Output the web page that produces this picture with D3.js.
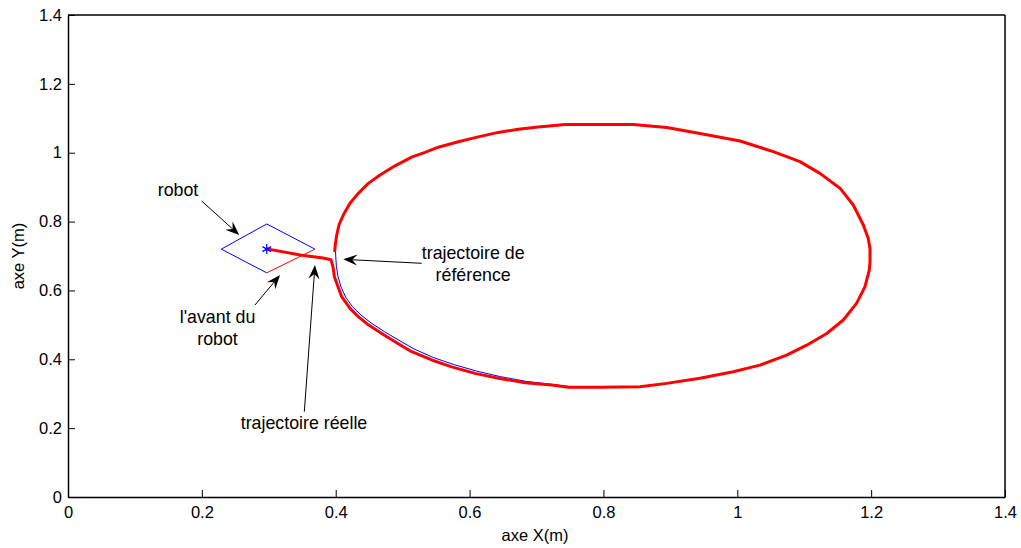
<!DOCTYPE html>
<html>
<head>
<meta charset="utf-8">
<script src="https://cdn.jsdelivr.net/npm/d3@7"></script>
<style>
  html, body { margin: 0; padding: 0; background: #fff; }
  svg { display: block; font-family: "Liberation Sans", Arial, sans-serif; }
</style>
</head>
<body>
<svg id="chart" width="1021" height="548"></svg>
<script>
// ---------------- data ----------------
const xTicks = [0, 0.2, 0.4, 0.6, 0.8, 1, 1.2, 1.4];
const xTickLabels = ["0", "0.2", "0.4", "0.6", "0.8", "1", "1.2", "1.4"];
const yTicks = [0, 0.2, 0.4, 0.6, 0.8, 1, 1.2, 1.4];
const yTickLabels = ["0", "0.2", "0.4", "0.6", "0.8", "1", "1.2", "1.4"];

// reference trajectory (blue)
const refX = [0.4000,0.4010,0.4035,0.4080,0.4150,0.4250,0.4380,0.4540,0.4730,0.4930,0.5170,0.5460,0.5760,0.6100,0.6450,0.6840,0.7230,0.7480,0.7950,
  0.8546,0.8945,0.9443,0.9940,1.0339,1.0738,1.1037,1.1336,1.1584,1.1784,1.1908,1.1972,1.1983,1.1983,1.1957,1.1883,1.1733,1.1534,1.1235,1.0936,1.0538,1.0041,0.9443,0.8945,0.8446,0.7426,0.7027,0.6728,0.6429,0.6130,0.5832,0.5533,0.5334,0.5135,0.4886,0.4662,0.4487,0.4337,0.4213,0.4113,0.4049,0.4015,0.3995,0.4000];
const refY = [0.700,0.670,0.640,0.610,0.580,0.553,0.528,0.504,0.480,0.457,0.430,0.405,0.385,0.366,0.350,0.336,0.327,0.321,0.320,
  0.320,0.330,0.345,0.364,0.383,0.412,0.441,0.475,0.514,0.563,0.611,0.659,0.683,0.720,0.751,0.790,0.848,0.897,0.940,0.974,1.003,1.034,1.056,1.073,1.082,1.082,1.075,1.068,1.059,1.046,1.032,1.016,1.001,0.987,0.962,0.935,0.911,0.882,0.853,0.819,0.790,0.761,0.735,0.700];

// real trajectory (red)
const realX = [0.299,0.347,0.381,0.393,0.396,0.398,0.4015,0.4089,0.4213,0.4337,0.4487,0.4687,0.4886,0.5135,0.5434,0.5733,0.6081,0.6429,0.6828,0.7227,0.7475,0.7949,
  0.8546,0.8945,0.9443,0.9940,1.0339,1.0738,1.1037,1.1336,1.1584,1.1784,1.1908,1.1972,1.1983,1.1983,1.1957,1.1883,1.1733,1.1534,1.1235,1.0936,1.0538,1.0041,0.9443,0.8945,0.8446,0.7426,0.7027,0.6728,0.6429,0.6130,0.5832,0.5533,0.5334,0.5135,0.4886,0.4662,0.4487,0.4337,0.4213,0.4113,0.4049,0.4015,0.3995,0.3985];
const realY = [0.720,0.703,0.694,0.689,0.668,0.640,0.621,0.582,0.548,0.524,0.500,0.475,0.451,0.422,0.398,0.378,0.359,0.345,0.332,0.325,0.319,0.319,
  0.320,0.330,0.345,0.364,0.383,0.412,0.441,0.475,0.514,0.563,0.611,0.659,0.683,0.720,0.751,0.790,0.848,0.897,0.940,0.974,1.003,1.034,1.056,1.073,1.082,1.082,1.075,1.068,1.059,1.046,1.032,1.016,1.001,0.987,0.962,0.935,0.911,0.882,0.853,0.819,0.790,0.761,0.735,0.715];

// robot body (diamond): left, top, right, bottom ; front side = bottom->right
const robotX = [0.229, 0.297, 0.369, 0.297];
const robotY = [0.720, 0.793, 0.720, 0.651];
const robotCenter = [0.297, 0.720];

// annotations (data units)
const annTexts = [
  { lines: ["robot"], x: 0.1644, y: 0.8917, from: [0.1998, 0.8597], to: [0.2559, 0.761] },
  { lines: ["l'avant du", "robot"], x: 0.2234, y: 0.5237, from: [0.2794, 0.5577], to: [0.3168, 0.6448] },
  { lines: ["trajectoire de", "référence"], x: 0.6054, y: 0.7078, from: [0.5285, 0.6788], to: [0.4113, 0.6904] },
  { lines: ["trajectoire réelle"], x: 0.3526, y: 0.2149, from: [0.3531, 0.2478], to: [0.3690, 0.6738] }
];

// ---------------- drawing ----------------
const svg = d3.select("#chart");
const x = d3.scaleLinear().domain([0, 1.4]).range([68, 1005]);
const y = d3.scaleLinear().domain([0, 1.4]).range([497, 15]);

// reference curve
const line = d3.line().x(d => x(d[0])).y(d => y(d[1]));
svg.append("path")
  .attr("d", line(refX.map((v, i) => [v, refY[i]])))
  .attr("fill", "none").attr("stroke", "#0000ff").attr("stroke-width", 1);

// robot diamond
const rp = robotX.map((v, i) => [v, robotY[i]]);
svg.append("path")
  .attr("d", line([rp[3], rp[0], rp[1], rp[2]]))
  .attr("fill", "none").attr("stroke", "#0000ff").attr("stroke-width", 1);
svg.append("path")
  .attr("d", line([rp[3], rp[2]]))
  .attr("fill", "none").attr("stroke", "#ff0000").attr("stroke-width", 1);

// real trajectory
svg.append("path")
  .attr("d", line(realX.map((v, i) => [v, realY[i]])))
  .attr("fill", "none").attr("stroke", "#ff0000").attr("stroke-width", 3)
  .attr("stroke-linejoin", "round").attr("stroke-linecap", "round");

// robot centre star
svg.append("path")
  .attr("d", d3.symbol().type(d3.symbolAsterisk).size(70)())
  .attr("transform", `translate(${x(robotCenter[0])},${y(robotCenter[1])})`)
  .attr("fill", "none").attr("stroke", "#0000ff").attr("stroke-width", 1.2);

// axes
const fmtX = (d, i) => xTickLabels[i];
const fmtY = (d, i) => yTickLabels[i];
const gx = svg.append("g").attr("transform", "translate(0,497)")
  .call(d3.axisBottom(x).tickValues(xTicks).tickFormat(fmtX).tickSizeInner(-7).tickSizeOuter(0).tickPadding(12));
const gy = svg.append("g").attr("transform", "translate(68,0)")
  .call(d3.axisLeft(y).tickValues(yTicks).tickFormat(fmtY).tickSizeInner(-7).tickSizeOuter(0).tickPadding(12));
[gx, gy].forEach(g => {
  g.selectAll("text").attr("font-size", 16.5).attr("fill", "#000").attr("font-family", "Liberation Sans, Arial, sans-serif");
  g.selectAll("line").attr("stroke", "#000").attr("stroke-width", 1);
  g.select(".domain").attr("stroke", "#000").attr("stroke-width", 1.5);
});
gx.selectAll("text").attr("dy", "0.71em").attr("y", 9);
gy.selectAll("text").attr("x", -6);

// box top/right
svg.append("line").attr("x1", x(0)).attr("x2", x(1.4)).attr("y1", y(1.4)).attr("y2", y(1.4))
  .attr("stroke", "#000").attr("stroke-width", 1.5);
svg.append("line").attr("x1", x(1.4)).attr("x2", x(1.4)).attr("y1", y(1.4)).attr("y2", y(0))
  .attr("stroke", "#000").attr("stroke-width", 1.5);

// axis titles
svg.append("text").attr("x", 535).attr("y", 541).attr("text-anchor", "middle")
  .attr("font-size", 16.5).text("axe X(m)");
svg.append("text").attr("transform", "translate(24,256) rotate(-90)").attr("text-anchor", "middle")
  .attr("font-size", 16.5).text("axe Y(m)");

// annotations
function arrow(from, to) {
  const x1 = x(from[0]), y1 = y(from[1]), x2 = x(to[0]), y2 = y(to[1]);
  const dx = x2 - x1, dy = y2 - y1, len = Math.hypot(dx, dy);
  const ux = dx / len, uy = dy / len, nx = -uy, ny = ux;
  const L = 14, W = 5.5, N = 9;
  svg.append("line").attr("x1", x1).attr("y1", y1).attr("x2", x2 - ux * N).attr("y2", y2 - uy * N)
    .attr("stroke", "#000").attr("stroke-width", 1);
  const pts = [
    [x2, y2],
    [x2 - ux * L + nx * W, y2 - uy * L + ny * W],
    [x2 - ux * N, y2 - uy * N],
    [x2 - ux * L - nx * W, y2 - uy * L - ny * W]
  ];
  svg.append("path").attr("d", "M" + pts.map(p => p.join(",")).join("L") + "Z").attr("fill", "#000");
}
annTexts.forEach(a => {
  const t = svg.append("text").attr("text-anchor", "middle").attr("font-size", 17.8).attr("fill", "#000");
  a.lines.forEach((l, i) => {
    t.append("tspan").attr("x", x(a.x)).attr("y", y(a.y) + 6 + i * 22).text(l);
  });
  arrow(a.from, a.to);
});
</script>
</body>
</html>
